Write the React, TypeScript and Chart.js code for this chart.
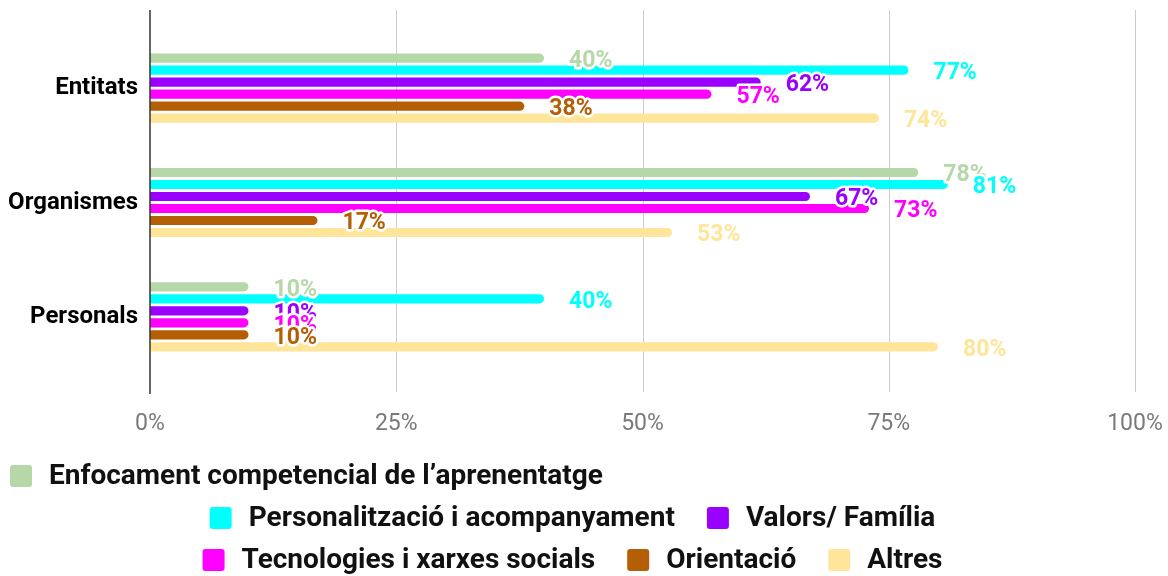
import React, { useEffect, useRef } from 'react';
import { Chart, registerables } from 'chart.js';

Chart.register(...registerables);

const categories = ['Entitats', 'Organismes', 'Personals'];
const seriesNames = [
  'Enfocament competencial de l’aprenentatge',
  'Personalització i acompanyament',
  'Valors/ Família',
  'Tecnologies i xarxes socials',
  'Orientació',
  'Altres',
];
const seriesColors = ['#b6d7a8', '#00ffff', '#9900ff', '#ff00ff', '#b45f06', '#ffe599'];
const enfocament = [40, 78, 10];
const personalitzacio = [77, 81, 40];
const valors = [62, 67, 10];
const tecnologies = [57, 73, 10];
const orientacio = [38, 17, 10];
const altres = [74, 53, 80];
const seriesValues = [enfocament, personalitzacio, valors, tecnologies, orientacio, altres];
const xTicks = [0, 25, 50, 75, 100];
const legendRows = [[0], [1, 2], [3, 4, 5]];

const FONT = 'Roboto';

const gridPlugin = {
  id: 'extGrid',
  beforeDatasetsDraw(chart: any) {
    const { ctx, chartArea, scales } = chart;
    const top = chartArea.top - 21;
    const bottom = chartArea.bottom + 18;
    ctx.save();
    ctx.lineWidth = 1;
    ctx.strokeStyle = '#cccccc';
    xTicks.forEach((v) => {
      if (v === 0) return;
      const px = Math.round(scales.x.getPixelForValue(v)) + 0.5;
      ctx.beginPath();
      ctx.moveTo(px, top);
      ctx.lineTo(px, bottom);
      ctx.stroke();
    });
    ctx.restore();
  },
  afterDatasetsDraw(chart: any) {
    const { ctx, chartArea, scales } = chart;
    const top = chartArea.top - 21;
    const bottom = chartArea.bottom + 20;
    ctx.save();
    ctx.lineWidth = 1.5;
    ctx.strokeStyle = '#333333';
    const px = scales.x.getPixelForValue(0);
    ctx.beginPath();
    ctx.moveTo(px, top);
    ctx.lineTo(px, bottom);
    ctx.stroke();
    ctx.restore();
  },
};

const labelPlugin = {
  id: 'valueLabels',
  afterDatasetsDraw(chart: any) {
    const { ctx } = chart;
    ctx.save();
    ctx.font = `bold 23px ${FONT}`;
    ctx.textAlign = 'left';
    ctx.textBaseline = 'middle';
    ctx.lineJoin = 'round';
    chart.data.datasets.forEach((ds: any, i: number) => {
      const meta = chart.getDatasetMeta(i);
      meta.data.forEach((el: any, j: number) => {
        const txt = `${ds.data[j]}%`;
        const x = el.x + 25;
        const y = el.y + 3;
        ctx.lineWidth = 5;
        ctx.strokeStyle = '#ffffff';
        ctx.strokeText(txt, x, y);
        ctx.fillStyle = ds.backgroundColor;
        ctx.fillText(txt, x, y);
      });
    });
    ctx.restore();
  },
};

const legendPlugin = {
  id: 'customLegend',
  afterDraw(chart: any) {
    const { ctx } = chart;
    const box = 22;
    const gap = 17;
    const itemGap = 32;
    const rowY = [476, 518, 560];
    const center = 572.5;
    ctx.save();
    ctx.font = `bold 28px ${FONT}`;
    ctx.textBaseline = 'middle';
    ctx.textAlign = 'left';
    legendRows.forEach((row, r) => {
      const widths = row.map((i) => box + gap + ctx.measureText(chart.data.datasets[i].label).width);
      const total = widths.reduce((a, b) => a + b, 0) + itemGap * (row.length - 1);
      let x = r === 0 ? 10 : center - total / 2;
      const y = rowY[r];
      row.forEach((i, k) => {
        const ds = chart.data.datasets[i];
        ctx.fillStyle = ds.backgroundColor;
        ctx.beginPath();
        (ctx as any).roundRect(x, y - box / 2, box, box, 3);
        ctx.fill();
        ctx.fillStyle = '#111111';
        ctx.fillText(ds.label, x + box + gap, y + 1);
        x += widths[k] + itemGap;
      });
    });
    ctx.restore();
  },
};

export default function App() {
  const ref = useRef<HTMLCanvasElement | null>(null);
  useEffect(() => {
    if (!ref.current) return;
    const chart = new Chart(ref.current, {
      type: 'bar',
      data: {
        labels: categories,
        datasets: seriesNames.map((name, i) => ({
          label: name,
          data: seriesValues[i],
          backgroundColor: seriesColors[i],
          borderWidth: 0,
          borderRadius: 5,
          borderSkipped: 'start',
          barPercentage: 0.76,
          categoryPercentage: 0.63,
        })),
      },
      options: {
        indexAxis: 'y',
        responsive: false,
        animation: false,
        layout: { padding: { top: 31, right: 33, left: 0, bottom: 0 } },
        plugins: {
          legend: { display: false },
          tooltip: { enabled: false },
        },
        scales: {
          x: {
            type: 'linear',
            min: 0,
            max: 100,
            afterBuildTicks: (s: any) => {
              s.ticks = xTicks.map((v) => ({ value: v }));
            },
            ticks: {
              callback: (v: any) => `${v}%`,
              font: { family: FONT, size: 23 },
              color: '#7a7a7a',
              padding: 28,
              maxRotation: 0,
            },
            grid: { display: false },
            border: { display: false },
            afterFit: (s: any) => {
              s.height = 202;
              s.paddingLeft = 0;
              s.paddingRight = 0;
            },
          },
          y: {
            type: 'category',
            grid: { display: false },
            border: { display: false },
            ticks: {
              font: { family: FONT, size: 24, weight: 'bold' },
              color: '#000000',
              padding: 4,
            },
            afterFit: (s: any) => {
              s.width = 150;
              s.paddingTop = 0;
              s.paddingBottom = 0;
            },
          },
        },
      } as any,
      plugins: [gridPlugin, labelPlugin, legendPlugin],
    });
    return () => chart.destroy();
  }, []);
  return (
    <div style={{ position: 'fixed', left: 0, top: 0, width: 1168, height: 576, background: '#ffffff' }}>
      <canvas ref={ref} width={1168} height={576} style={{ display: 'block', width: 1168, height: 576 }} />
    </div>
  );
}
